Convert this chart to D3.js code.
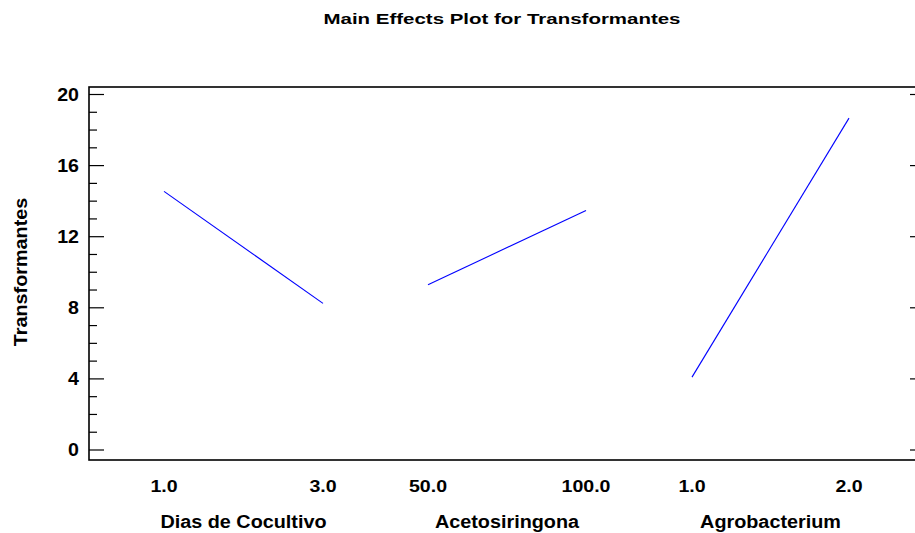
<!DOCTYPE html>
<html><head><meta charset="utf-8">
<script src="https://cdn.jsdelivr.net/npm/d3@7"></script>
<style>body{margin:0;background:#fff}svg{display:block}text{font-family:"Liberation Sans",Arial,sans-serif;font-weight:bold;fill:#000}</style>
</head><body><svg id="c" width="915" height="533"></svg>
<script>
const title = "Main Effects Plot for Transformantes";
const yTitle = "Transformantes";
const factors = ["Dias de Cocultivo", "Acetosiringona", "Agrobacterium"];
const levelsLow = [1.0, 50.0, 1.0];
const levelsHigh = [3.0, 100.0, 2.0];
const lowLabels = ["1.0", "50.0", "1.0"];
const highLabels = ["3.0", "100.0", "2.0"];
const meansLow = [14.55, 9.3, 4.1];
const meansHigh = [8.25, 13.47, 18.67];
const yMajorTicks = [0, 4, 8, 12, 16, 20];

const svg = d3.select("#c");
const box = {l: 89, t: 87, r: 926, b: 460};
const y = d3.scaleLinear().domain([0, 20]).range([450, 94.5]);
const panelRanges = [[164, 323], [428, 586], [692, 849]];

function stretch(sel, k) {
  sel.each(function() {
    const w = this.getComputedTextLength();
    d3.select(this).attr("textLength", w * k).attr("lengthAdjust", "spacingAndGlyphs");
  });
  return sel;
}

// frame
svg.append("rect").attr("x", box.l).attr("y", box.t).attr("width", box.r - box.l).attr("height", box.b - box.t)
  .attr("fill", "none").attr("stroke", "#000").attr("stroke-width", 1.6);

// left axis
const minor = d3.range(-1, 21, 1).filter(v => v % 4 !== 0 && y(v) < box.b && y(v) > box.t);
const gL = svg.append("g").attr("transform", `translate(${box.l},0)`);
gL.selectAll("line.mn").data(minor).join("line").attr("class","mn")
  .attr("x1", 0).attr("x2", 8).attr("y1", d => y(d)).attr("y2", d => y(d)).attr("stroke", "#000").attr("stroke-width", 1.2);
gL.selectAll("line.mj").data(yMajorTicks).join("line").attr("class","mj")
  .attr("x1", 0).attr("x2", 15).attr("y1", d => y(d)).attr("y2", d => y(d)).attr("stroke", "#000").attr("stroke-width", 1.2);
stretch(gL.selectAll("text").data(yMajorTicks).join("text")
  .attr("x", -10).attr("y", d => y(d)).attr("dy", "0.36em").attr("text-anchor", "end")
  .attr("font-size", 17.5).text(d => d), 1.12);
// right ticks
svg.append("g").selectAll("line").data(yMajorTicks).join("line")
  .attr("x1", box.r - 16).attr("x2", box.r).attr("y1", d => y(d)).attr("y2", d => y(d)).attr("stroke", "#000").attr("stroke-width", 1.2);

// panels
factors.forEach((f, i) => {
  const x = d3.scaleLinear().domain([levelsLow[i], levelsHigh[i]]).range(panelRanges[i]);
  const pts = [[levelsLow[i], meansLow[i]], [levelsHigh[i], meansHigh[i]]];
  svg.append("path").attr("d", d3.line().x(d => x(d[0])).y(d => y(d[1]))(pts))
    .attr("fill", "none").attr("stroke", "#0000ff").attr("stroke-width", 1.1);
  stretch(svg.append("text").attr("x", x(levelsLow[i])).attr("y", 492).attr("text-anchor", "middle").attr("font-size", 17).text(lowLabels[i]), 1.15);
  stretch(svg.append("text").attr("x", x(levelsHigh[i])).attr("y", 492).attr("text-anchor", "middle").attr("font-size", 17).text(highLabels[i]), 1.15);
  stretch(svg.append("text").attr("x", (panelRanges[i][0] + panelRanges[i][1]) / 2).attr("y", 528).attr("text-anchor", "middle").attr("font-size", 18).text(f), 1.1);
});

stretch(svg.append("text").attr("x", 502).attr("y", 24).attr("text-anchor", "middle").attr("font-size", 15.5).text(title), 1.32);
stretch(svg.append("text").attr("transform", "translate(27,272) rotate(-90)").attr("text-anchor", "middle").attr("font-size", 18).text(yTitle), 1.1);
</script></body></html>
